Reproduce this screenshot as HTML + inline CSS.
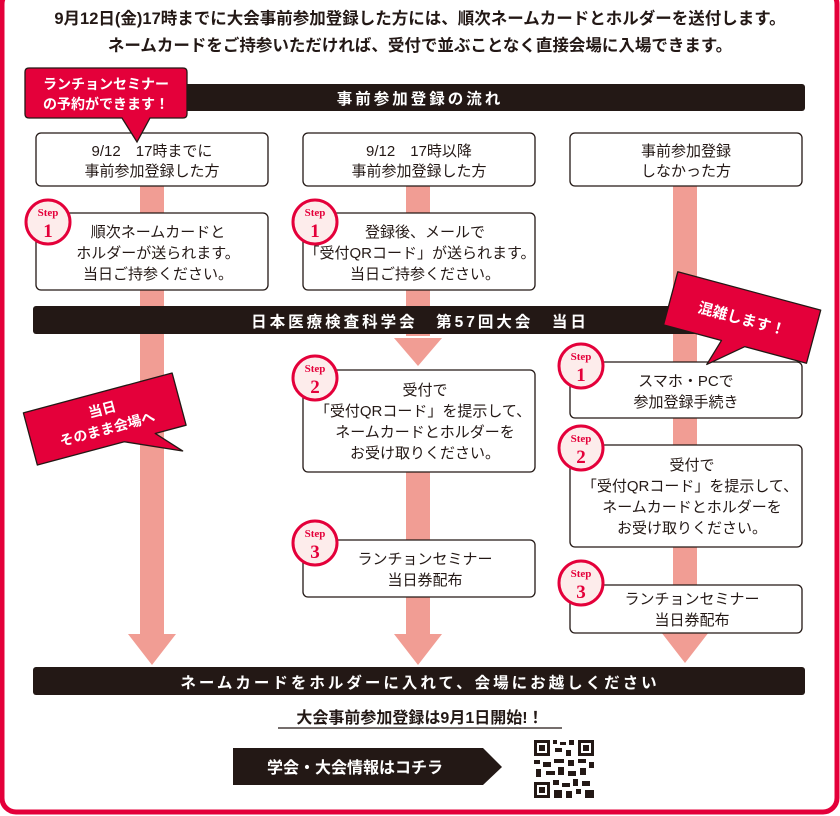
<!DOCTYPE html>
<html><head><meta charset="utf-8"><style>
html,body{margin:0;padding:0;background:#fff;}
svg{display:block;}
text{font-family:"Liberation Sans","Noto Sans CJK JP",sans-serif;}
.t{font-size:15px;fill:#231815;text-anchor:middle;}
.w{fill:#fff;font-weight:bold;text-anchor:middle;}
.s{font-family:"Liberation Serif","Noto Serif CJK SC",serif;fill:#e4003a;font-weight:bold;text-anchor:middle;}
</style></head><body>
<svg width="840" height="816" viewBox="0 0 840 816" xmlns="http://www.w3.org/2000/svg">
<rect x="2" y="-10" width="835" height="822" rx="14" fill="#fff" stroke="#e4003a" stroke-width="5"/>
<text x="420" y="24" class="t" style="font-weight:bold;font-size:16.5px">9月12日(金)17時までに大会事前参加登録した方には、順次ネームカードとホルダーを送付します。</text>
<text x="420" y="51" class="t" style="font-weight:bold;font-size:16.5px">ネームカードをご持参いただければ、受付で並ぶことなく直接会場に入場できます。</text>

<g fill="#f19d94">
<rect x="140" y="186" width="24" height="450"/>
<polygon points="128,634 176,634 152,665"/>
<rect x="406" y="186" width="24" height="150"/>
<polygon points="394,338 442,338 418,366"/>
<rect x="406" y="470" width="24" height="166"/>
<polygon points="394,634 442,634 418,665"/>
<rect x="673" y="186" width="24" height="448"/>
<polygon points="661,632 709,632 685,663"/>
</g>

<rect x="33" y="84" width="772" height="27" rx="3" fill="#231815"/>
<text x="420" y="104" class="w" style="font-size:15.5px;letter-spacing:3px">事前参加登録の流れ</text>

<g fill="#fff" stroke="#231815" stroke-width="1.3">
<rect x="36" y="133" width="232" height="53" rx="5"/>
<rect x="303" y="133" width="232" height="53" rx="5"/>
<rect x="570" y="133" width="232" height="53" rx="5"/>
<rect x="36" y="213" width="232" height="77" rx="5"/>
<rect x="303" y="213" width="232" height="77" rx="5"/>
<rect x="303" y="370" width="232" height="102" rx="5"/>
<rect x="303" y="540" width="232" height="57" rx="5"/>
<rect x="570" y="362" width="232" height="56" rx="5"/>
<rect x="570" y="445" width="232" height="102" rx="5"/>
<rect x="570" y="585" width="232" height="48" rx="5"/>
</g>
<text class="t"><tspan x="152" y="156">9/12　17時までに</tspan><tspan x="152" y="176">事前参加登録した方</tspan></text>
<text class="t"><tspan x="419" y="156">9/12　17時以降</tspan><tspan x="419" y="176">事前参加登録した方</tspan></text>
<text class="t"><tspan x="686" y="156">事前参加登録</tspan><tspan x="686" y="176">しなかった方</tspan></text>
<text class="t"><tspan x="158" y="237">順次ネームカードと</tspan><tspan x="158" y="258">ホルダーが送られます。</tspan><tspan x="158" y="279">当日ご持参ください。</tspan></text>
<text class="t"><tspan x="425" y="237">登録後、メールで</tspan><tspan x="420" y="258">「受付QRコード」が送られます。</tspan><tspan x="425" y="279">当日ご持参ください。</tspan></text>
<text class="t"><tspan x="425" y="395">受付で</tspan><tspan x="423" y="416">「受付QRコード」を提示して、</tspan><tspan x="425" y="437">ネームカードとホルダーを</tspan><tspan x="425" y="458">お受け取りください。</tspan></text>
<text class="t"><tspan x="425" y="564">ランチョンセミナー</tspan><tspan x="425" y="585">当日券配布</tspan></text>
<text class="t"><tspan x="686" y="386">スマホ・PCで</tspan><tspan x="686" y="407">参加登録手続き</tspan></text>
<text class="t"><tspan x="692" y="470">受付で</tspan><tspan x="690" y="491">「受付QRコード」を提示して、</tspan><tspan x="692" y="512">ネームカードとホルダーを</tspan><tspan x="692" y="533">お受け取りください。</tspan></text>
<text class="t"><tspan x="692" y="604">ランチョンセミナー</tspan><tspan x="692" y="625">当日券配布</tspan></text>

<g>
<circle cx="48" cy="222" r="22" fill="#fdeceb" stroke="#e4003a" stroke-width="3"/>
<text x="48" y="216" class="s" style="font-size:11px">Step</text><text x="48" y="237" class="s" style="font-size:19px">1</text>
<circle cx="315" cy="222" r="22" fill="#fdeceb" stroke="#e4003a" stroke-width="3"/>
<text x="315" y="216" class="s" style="font-size:11px">Step</text><text x="315" y="237" class="s" style="font-size:19px">1</text>
<circle cx="315" cy="378" r="22" fill="#fdeceb" stroke="#e4003a" stroke-width="3"/>
<text x="315" y="372" class="s" style="font-size:11px">Step</text><text x="315" y="393" class="s" style="font-size:19px">2</text>
<circle cx="315" cy="543" r="22" fill="#fdeceb" stroke="#e4003a" stroke-width="3"/>
<text x="315" y="537" class="s" style="font-size:11px">Step</text><text x="315" y="558" class="s" style="font-size:19px">3</text>
<circle cx="581" cy="366" r="22" fill="#fdeceb" stroke="#e4003a" stroke-width="3"/>
<text x="581" y="360" class="s" style="font-size:11px">Step</text><text x="581" y="381" class="s" style="font-size:19px">1</text>
<circle cx="581" cy="448" r="22" fill="#fdeceb" stroke="#e4003a" stroke-width="3"/>
<text x="581" y="442" class="s" style="font-size:11px">Step</text><text x="581" y="463" class="s" style="font-size:19px">2</text>
<circle cx="581" cy="583" r="22" fill="#fdeceb" stroke="#e4003a" stroke-width="3"/>
<text x="581" y="577" class="s" style="font-size:11px">Step</text><text x="581" y="598" class="s" style="font-size:19px">3</text>
</g>

<rect x="33" y="306" width="772" height="28" rx="3" fill="#231815"/>
<text x="420" y="327" class="w" style="font-size:15.5px;letter-spacing:3px">日本医療検査科学会　第57回大会　当日</text>

<path d="M29,68 H183 Q187,68 187,72 V114 Q187,118 183,118 H150 L137,142 L122,118 H29 Q25,118 25,114 V72 Q25,68 29,68 Z" fill="#e4003a" stroke="#231815" stroke-width="1.3"/>
<text class="w" style="font-size:14px"><tspan x="106" y="89">ランチョンセミナー</tspan><tspan x="106" y="109">の予約ができます！</tspan></text>

<g transform="rotate(15 742 318)">
<path d="M668,290 H816 V345 H752 L720,372 L728,345 H668 Z" fill="#e4003a" stroke="#231815" stroke-width="1.3" stroke-linejoin="round"/>
<text x="742" y="324" class="w" style="font-size:15px">混雑します！</text>
</g>

<g transform="rotate(-15 105 420)">
<path d="M28,392 H182 V446 H150 L172,470 L118,446 H28 Z" fill="#e4003a" stroke="#231815" stroke-width="1.3" stroke-linejoin="round"/>
<text class="w" style="font-size:14px"><tspan x="105" y="414">当日</tspan><tspan x="105" y="434">そのまま会場へ</tspan></text>
</g>

<rect x="33" y="667" width="772" height="28" rx="3" fill="#231815"/>
<text x="420" y="688" class="w" style="font-size:15.5px;letter-spacing:3px">ネームカードをホルダーに入れて、会場にお越しください</text>

<text x="420" y="723" class="t" style="font-weight:bold;font-size:16px">大会事前参加登録は9月1日開始!！</text>
<line x1="278" y1="728" x2="562" y2="728" stroke="#231815" stroke-width="1.2"/>

<polygon points="233,748 483,748 502,767 483,785 233,785" fill="#231815"/>
<text x="355" y="773" class="w" style="font-size:16px">学会・大会情報はコチラ</text>

<g fill="#231815">
<rect x="533" y="739" width="62" height="60" fill="#fff"/>
<rect x="534" y="740" width="16" height="16"/><rect x="537" y="743" width="10" height="10" fill="#fff"/><rect x="539" y="745" width="6" height="6"/>
<rect x="578" y="740" width="16" height="16"/><rect x="581" y="743" width="10" height="10" fill="#fff"/><rect x="583" y="745" width="6" height="6"/>
<rect x="534" y="782" width="16" height="16"/><rect x="537" y="785" width="10" height="10" fill="#fff"/><rect x="539" y="787" width="6" height="6"/>
<rect x="553" y="740" width="4" height="4"/><rect x="560" y="742" width="6" height="3"/><rect x="569" y="740" width="5" height="5"/>
<rect x="555" y="748" width="7" height="4"/><rect x="566" y="750" width="5" height="6"/>
<rect x="534" y="760" width="6" height="4"/><rect x="543" y="762" width="8" height="5"/><rect x="554" y="759" width="10" height="4"/><rect x="568" y="760" width="6" height="6"/><rect x="578" y="759" width="8" height="4"/><rect x="589" y="762" width="5" height="6"/>
<rect x="536" y="769" width="5" height="8"/><rect x="546" y="771" width="9" height="4"/><rect x="558" y="767" width="6" height="8"/><rect x="568" y="771" width="8" height="5"/><rect x="580" y="768" width="6" height="7"/>
<rect x="553" y="780" width="6" height="5"/><rect x="562" y="783" width="8" height="4"/><rect x="573" y="779" width="5" height="7"/><rect x="582" y="781" width="8" height="5"/>
<rect x="554" y="790" width="8" height="8"/><rect x="566" y="791" width="6" height="7"/><rect x="576" y="789" width="5" height="5"/><rect x="585" y="790" width="9" height="8"/>
</g>
</svg>
</body></html>
